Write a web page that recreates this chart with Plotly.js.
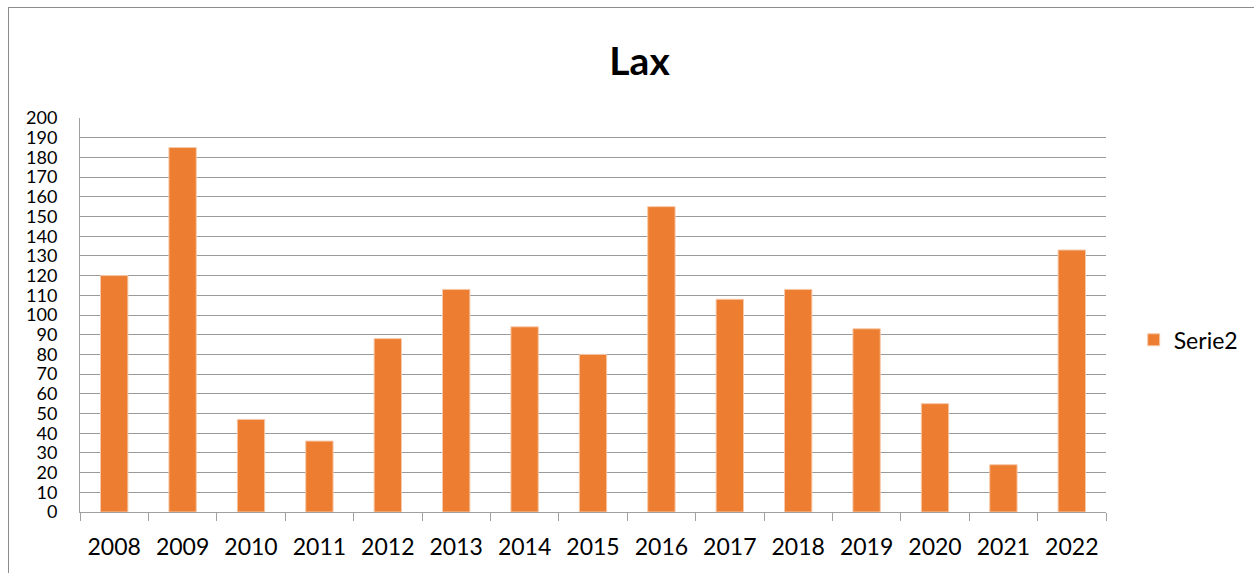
<!DOCTYPE html>
<html>
<head>
<meta charset="utf-8">
<script src="https://cdn.plot.ly/plotly-3.0.1.min.js"></script>
<style>
html,body{margin:0;padding:0;background:#fff;}
#wrap{position:relative;width:1254px;height:573px;overflow:hidden;}
#frame{position:absolute;left:8px;top:7px;width:1300px;height:600px;border-top:1px solid #8c8c8c;border-left:1px solid #8c8c8c;pointer-events:none;}
#chart{position:absolute;left:0;top:0;width:1254px;height:573px;}
</style>
</head>
<body>
<div id="wrap">
<div id="chart"></div>
<div id="frame"></div>
</div>
<script>
const years = ["2008","2009","2010","2011","2012","2013","2014","2015","2016","2017","2018","2019","2020","2021","2022"];
const serie2 = [120,185,47,36,88,113,94,80,155,108,113,93,55,24,133];
const yTicks = [0,10,20,30,40,50,60,70,80,90,100,110,120,130,140,150,160,170,180,190,200];

const trace = {
  type: 'bar',
  x: years,
  y: serie2,
  name: 'Serie2',
  marker: {color: '#ED7D31', line: {color: '#f6c9a8', width: 1}},
  hoverinfo: 'x+y'
};

const layout = {
  width: 1254,
  height: 573,
  margin: {l: 80, r: 147, t: 118, b: 61, pad: 0},
  paper_bgcolor: 'rgba(0,0,0,0)',
  plot_bgcolor: '#fff',
  font: {family: 'Lato, "Open Sans", sans-serif', color: '#000'},
  title: {
    text: '<b>Lax</b>',
    font: {size: 39, family: 'Lato, "Open Sans", sans-serif', color: '#000'},
    x: 0.51, xanchor: 'center', y: 0.893, yanchor: 'middle'
  },
  bargap: 0.6,
  showlegend: true,
  legend: {
    x: 1.026, xanchor: 'left', y: 0.437, yanchor: 'middle',
    font: {size: 23}, itemwidth: 20, bgcolor: 'rgba(0,0,0,0)'
  },
  xaxis: {
    type: 'category',
    tickvals: years,
    ticktext: years,
    tickson: 'boundaries',
    ticks: 'outside',
    ticklen: 8,
    tickcolor: '#a0a0a0',
    showline: true,
    linecolor: '#a0a0a0',
    linewidth: 1,
    showgrid: false,
    tickfont: {size: 23},
    ticklabelstandoff: 14
  },
  yaxis: {
    range: [0, 200],
    tickvals: yTicks,
    ticktext: yTicks.map(String),
    showgrid: true,
    gridcolor: '#9a9a9a',
    gridwidth: 1,
    showline: true,
    linecolor: '#a0a0a0',
    ticks: '',
    zeroline: false,
    tickfont: {size: 18},
    ticklabelstandoff: 18
  }
};

Plotly.newPlot('chart', [trace], layout, {displayModeBar: false, staticPlot: true});
</script>
</body>
</html>
